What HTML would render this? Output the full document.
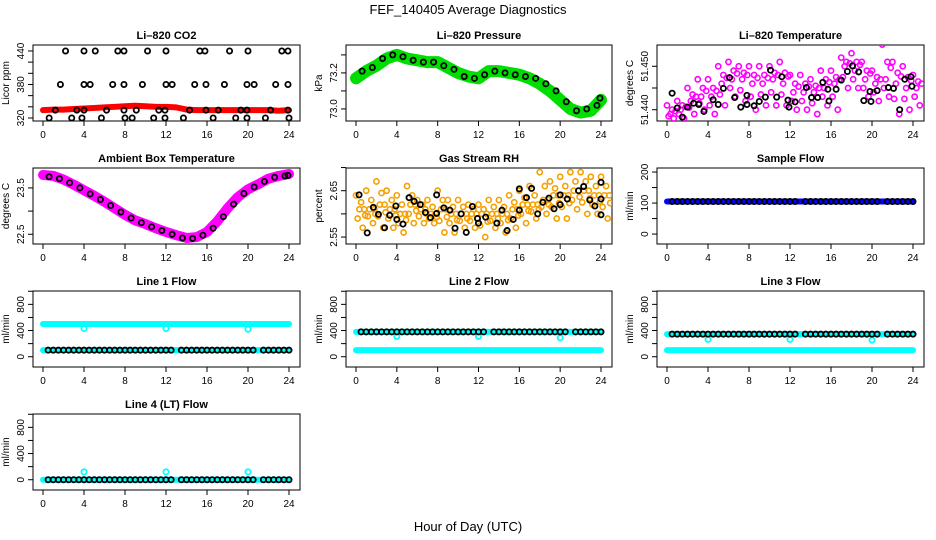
<!DOCTYPE html>
<html><head><meta charset="utf-8">
<style>
html,body{margin:0;padding:0;background:#fff;}
svg{display:block;font-family:"Liberation Sans",Arial,sans-serif;}
</style></head>
<body>
<svg id="chart" width="936" height="540" viewBox="0 0 936 540" xmlns="http://www.w3.org/2000/svg">
<rect x="0" y="0" width="936" height="540" fill="#fff"/>
<text x="468" y="14" font-size="13" text-anchor="middle">FEF_140405  Average Diagnostics</text>
<text x="468" y="531" font-size="13" text-anchor="middle">Hour of Day (UTC)</text>
</svg>
<script>
// ---------- data ----------
const hours = [0,1,2,3,4,5,6,7,8,9,10,11,12,13,14,15,16,17,18,19,20,21,22,23,24];
const co2Band = [334,335,335,336,337,338,339,340,341,342,341,340,340,339,335,334,334,334,334,334,334,334,334,333,334];
const co2H440 = [2.2,4.0,5.1,7.3,7.9,10.2,12.0,15.3,15.8,18.2,20.0,23.3,23.9];
const co2H380 = [1.7,4.0,4.6,6.8,7.9,9.7,12.0,12.6,14.8,15.9,17.7,19.9,20.6,22.7,23.9];
const co2H320 = [0.6,2.8,3.8,5.7,8.0,8.7,10.8,11.9,13.7,16.6,18.8,19.9,21.7,24.0];
const co2H334 = [1.2,3.3,4.0,6.2,7.9,9.1,11.3,11.9,14.3,15.9,17.1,19.3,19.9,22.2,23.9];
const presBand = [73.17,73.21,73.24,73.28,73.30,73.28,73.27,73.26,73.26,73.23,73.20,73.18,73.17,73.21,73.21,73.20,73.19,73.17,73.14,73.10,73.05,73.00,72.98,72.99,73.05];
const presBlackH = [0.6,1.6,2.6,3.6,4.6,5.6,6.6,7.6,8.6,9.6,10.6,11.6,12.6,13.6,14.6,15.6,16.6,17.6,18.6,19.6,20.6,21.6,22.6,23.6,23.9];
const presBlackV = [73.21,73.23,73.28,73.30,73.29,73.27,73.26,73.26,73.24,73.22,73.18,73.17,73.19,73.21,73.20,73.19,73.18,73.17,73.14,73.10,73.04,72.99,73.00,73.02,73.06];
const tempHi = [51.441,51.442,51.445,51.447,51.447,51.450,51.451,51.450,51.450,51.450,51.450,51.451,51.448,51.448,51.447,51.449,51.449,51.452,51.453,51.451,51.449,51.455,51.451,51.450,51.448];
const tempMid = [51.439,51.440,51.442,51.443,51.443,51.446,51.447,51.447,51.446,51.446,51.447,51.446,51.444,51.444,51.444,51.445,51.446,51.450,51.449,51.447,51.446,51.447,51.446,51.445,51.445];
const tempLo = [51.438,51.438,51.439,51.440,51.439,51.441,51.443,51.442,51.440,51.441,51.441,51.441,51.440,51.440,51.439,51.441,51.440,51.445,51.445,51.443,51.442,51.443,51.439,51.440,51.441];
const tempBlackH = [0.5,1.0,1.5,2.0,2.6,3.1,3.6,4.5,5.0,5.5,6.1,6.6,7.2,7.8,7.8,8.5,9.0,9.6,10.1,10.7,11.2,11.8,11.9,12.5,13.6,14.1,14.7,15.2,15.7,15.8,16.5,17.0,17.6,18.1,18.7,19.2,19.8,19.9,20.5,21.6,22.1,22.7,23.2,23.8,23.9];
const tempBlackV = [51.4438,51.4404,51.4383,51.4406,51.4415,51.4412,51.4396,51.4423,51.4412,51.4449,51.4474,51.4428,51.4406,51.4433,51.4412,51.4409,51.4419,51.4429,51.4491,51.4429,51.4476,51.4422,51.4406,51.4418,51.4451,51.4428,51.4428,51.4463,51.4447,51.4420,51.4447,51.4468,51.4488,51.4501,51.4487,51.4421,51.4442,51.4419,51.4444,51.4451,51.4449,51.4400,51.4470,51.4476,51.4454];
const ambBand = [23.78,23.76,23.68,23.57,23.45,23.33,23.20,23.06,22.92,22.80,22.72,22.63,22.55,22.48,22.42,22.44,22.55,22.78,23.06,23.30,23.47,23.58,23.70,23.76,23.80];
const ambBlackH = [0.6,1.6,2.6,3.6,4.6,5.6,6.6,7.6,8.6,9.6,10.6,11.6,12.6,13.6,14.6,15.6,16.6,17.6,18.6,19.6,20.6,21.6,22.6,23.6,23.9];
const ambBlackV = [23.74,23.70,23.61,23.50,23.37,23.25,23.12,22.98,22.85,22.75,22.66,22.58,22.50,22.42,22.41,22.48,22.63,22.88,23.15,23.38,23.52,23.64,23.73,23.76,23.77];
const rhHi = [2.64,2.65,2.67,2.65,2.64,2.66,2.63,2.63,2.65,2.63,2.63,2.62,2.62,2.63,2.63,2.64,2.65,2.66,2.69,2.67,2.68,2.69,2.69,2.68,2.68];
const rhMid = [2.61,2.61,2.62,2.61,2.60,2.62,2.61,2.60,2.61,2.60,2.60,2.60,2.60,2.60,2.60,2.61,2.62,2.62,2.63,2.64,2.64,2.65,2.65,2.64,2.64];
const rhLo = [2.57,2.58,2.57,2.57,2.56,2.58,2.58,2.58,2.56,2.56,2.57,2.57,2.55,2.57,2.56,2.57,2.58,2.59,2.60,2.59,2.59,2.61,2.60,2.60,2.59];
const rhBlackH = [0.3,1.1,1.7,2.2,2.8,3.3,3.9,4.0,4.6,5.2,5.7,6.3,6.8,7.3,7.9,7.9,8.6,9.2,9.7,10.3,10.8,11.4,11.9,12.0,12.7,13.8,14.3,14.8,15.4,16.0,16.0,16.7,17.2,17.8,18.3,18.9,19.4,20.0,20.0,20.7,21.8,22.3,22.9,23.4,24.0,24.0,24.0];
const rhBlackV = [2.641,2.559,2.614,2.599,2.570,2.597,2.617,2.588,2.578,2.635,2.627,2.620,2.603,2.592,2.641,2.601,2.613,2.608,2.569,2.600,2.560,2.616,2.590,2.580,2.593,2.580,2.608,2.564,2.588,2.608,2.654,2.635,2.655,2.600,2.625,2.634,2.611,2.641,2.620,2.632,2.650,2.659,2.630,2.617,2.632,2.668,2.598];
const flowBlackH = [0.5,1.0,1.5,2.0,2.5,3.0,3.5,4.0,4.5,5.0,5.5,6.0,6.5,7.0,7.5,8.0,8.5,9.0,9.5,10.0,10.5,11.0,11.5,12.0,12.5,13.5,14.0,14.5,15.0,15.5,16.0,16.5,17.0,17.5,18.0,18.5,19.0,19.5,20.0,20.5,21.5,22.0,22.5,23.0,23.5,24.0];
const sampleFlow = [105];
const line1Flow = [500,100];
const line2Flow = [380,100];
const line3Flow = [345,100];
const line4Flow = [0];
const outlierH = [4,12,20];
const line1Out = [430,430,420];
const line2Out = [310,310,290];
const line3Out = [265,265,255];
const line4Out = [120,120,120];

// ---------- layout ----------
const NS = "http://www.w3.org/2000/svg";
const svg = document.getElementById('chart');
const colL = [33,346,657], colR = [300,612,924];
const rowT = [45,168,291,414], PH = 76;
function el(tag, attrs, parent){
  const e = document.createElementNS(NS, tag);
  for (const k in attrs) e.setAttribute(k, attrs[k]);
  (parent||svg).appendChild(e);
  return e;
}
function panel(name, title, ylab, col, row, ymin, ymax, ticks, labels){
  const g = el('g', {});
  
  
  const L = colL[col], R = colR[col], T = rowT[row], B = T + PH;
  const x0 = L + 10, x1 = R - 11;
  const sx = h => x0 + (h / 24) * (x1 - x0);
  const sy = v => B - (v - ymin) / (ymax - ymin) * (B - T);
  const box = el('rect', {x:L, y:T, width:R-L, height:PH, fill:'none', stroke:'#000', 'stroke-width':1}, g);
  
  
  const t = el('text', {x:(L+R)/2, y:T-6, 'font-size':11, 'font-weight':'bold', 'text-anchor':'middle'}, g);
  t.textContent = title;
  
  
  const yl = el('text', {x:0, y:0, 'font-size':10, 'text-anchor':'middle', transform:`translate(${L-24},${(T+B)/2}) rotate(-90)`}, g);
  yl.textContent = ylab;
  
  
  for (let h = 0; h <= 24; h += 4){
    el('line', {x1:sx(h), x2:sx(h), y1:B, y2:B+5, stroke:'#000'}, g);
    const tl = el('text', {x:sx(h), y:B+17, 'font-size':10, 'text-anchor':'middle'}, g);
    tl.textContent = h;
    
    
  }
  ticks.forEach((v, i) => {
    el('line', {x1:L-5, x2:L, y1:sy(v), y2:sy(v), stroke:'#000'}, g);
    if (labels[i]){
      const yt = el('text', {x:0, y:0, 'font-size':10, 'text-anchor':'middle', transform:`translate(${L-9},${sy(v)}) rotate(-90)`}, g);
      yt.textContent = labels[i];
      
      
    }
  });
  const clip = 'clip-' + name;
  const cp = el('clipPath', {id:clip}, g);
  el('rect', {x:L, y:T, width:R-L, height:PH}, cp);
  const marks = el('g', {'clip-path':`url(#${clip})`}, g);
  return {sx, sy, g:marks};
}
function band(p, xs, ys, color, w, name){
  const pts = xs.map((h,i) => p.sx(h) + ',' + p.sy(ys[i])).join(' ');
  const pl = el('polyline', {points:pts, fill:'none', stroke:color, 'stroke-width':w, 'stroke-linejoin':'round', 'stroke-linecap':'round'}, p.g);
  
  
}
function pts(p, xs, ys, color, r, sw, name){
  xs.forEach((h, i) => {
    const c = el('circle', {cx:p.sx(h), cy:p.sy(ys[i]), r:r, fill:'none', stroke:color, 'stroke-width':sw}, p.g);
    
    
  });
}
const fill = (arr, v) => arr.map(() => v);
const BR = 2.6, BW = 1.8;

// CO2
let p = panel('co2', 'Li\u2013820 CO2', 'Licor ppm', 0, 0, 314.6, 450.7, [320,340,360,380,400,420,440], ['320','','','380','','','440']);
band(p, hours, co2Band, '#ff0000', 6, 'co2-band');
pts(p, co2H440, fill(co2H440, 440), '#000', BR, BW, 'co2-black-point');
pts(p, co2H380, fill(co2H380, 380), '#000', BR, BW, 'co2-black-point');
pts(p, co2H320, fill(co2H320, 320), '#000', BR, BW, 'co2-black-point');
pts(p, co2H334, fill(co2H334, 334), '#000', BR, BW, 'co2-black-point');

// Pressure
p = panel('pressure', 'Li\u2013820 Pressure', 'kPa', 1, 0, 72.933, 73.355, [73.0,73.1,73.2,73.3], ['73.0','','73.2','']);
band(p, hours, presBand, '#00dd00', 12, 'pressure-band');
pts(p, presBlackH, presBlackV, '#000', BR, BW, 'pressure-black-point');

// Temperature
p = panel('temperature', 'Li\u2013820 Temperature', 'degrees C', 2, 0, 51.4374, 51.4549, [51.440,51.445,51.450], ['51.440','','51.450']);
[0,0.33,0.66].forEach((o,k) => pts(p, hours.map(h=>h+o), [tempHi,tempMid,tempLo][k], '#ff00ff', 2.6, 1.6, 'temperature-point'));
pts(p, hours.map(h=>h+0.5), tempMid.map((v,i)=>(v+tempHi[i])/2), '#ff00ff', 2.6, 1.6, 'temperature-point');
pts(p, hours.map(h=>h+0.16), tempMid.map((v,i)=>(v+tempLo[i])/2), '#ff00ff', 2.6, 1.6, 'temperature-point');
pts(p, hours.map(h=>h+0.83), tempMid.map((v,i)=>(2*v+tempHi[i])/3), '#ff00ff', 2.6, 1.6, 'temperature-point');
pts(p, tempBlackH, tempBlackV, '#000', BR, BW, 'temperature-black-point');

// Ambient box temp
p = panel('ambient-temp', 'Ambient Box Temperature', 'degrees C', 0, 1, 22.29, 23.93, [22.5,23.0,23.5], ['22.5','','23.5']);
band(p, hours, ambBand, '#ff00ff', 10, 'ambient-band');
pts(p, ambBlackH, ambBlackV, '#000', BR, BW, 'ambient-black-point');

// RH
p = panel('rh', 'Gas Stream RH', 'percent', 1, 1, 2.535, 2.699, [2.55,2.60,2.65,2.70], ['2.55','','2.65','']);
[0,0.33,0.66].forEach((o,k) => pts(p, hours.map(h=>h+o), [rhHi,rhMid,rhLo][k], '#f5a000', 2.6, 1.6, 'rh-point'));
pts(p, hours.map(h=>h+0.5), rhMid.map((v,i)=>(v+rhHi[i])/2), '#f5a000', 2.6, 1.6, 'rh-point');
pts(p, hours.map(h=>h+0.16), rhMid.map((v,i)=>(v+rhLo[i])/2), '#f5a000', 2.6, 1.6, 'rh-point');
pts(p, hours.map(h=>h+0.8), rhMid, '#f5a000', 2.6, 1.6, 'rh-point');
pts(p, hours.map(h=>h+0.9), rhMid.map((v,i)=>(2*v+rhLo[i])/3), '#f5a000', 2.6, 1.6, 'rh-point');
pts(p, rhBlackH, rhBlackV, '#000', BR, BW, 'rh-black-point');

// Sample flow
p = panel('sample-flow', 'Sample Flow', 'ml/min', 2, 1, -32, 213, [0,50,100,150,200], ['0','','100','','200']);
band(p, [0,24], fill([0,24], sampleFlow[0]), '#0000ff', 6, 'sample-flow-band');
pts(p, flowBlackH, fill(flowBlackH, sampleFlow[0]), '#000', BR, BW, 'sample-flow-black-point');

// Line flows
const fT = [0,200,400,600,800,1000], fL = ['0','','400','','800',''];
function flowPanel(name, title, col, row, hi, lo, outV, blackOnHi){
  const q = panel(name, title, 'ml/min', col, row, -157, 1004, fT, fL);
  if (hi !== null) band(q, [0,24], fill([0,24], hi), '#00ffff', 6, name + '-high-band');
  band(q, [0,24], fill([0,24], lo), '#00ffff', 6, name + '-low-band');
  pts(q, outlierH, outV, '#00ffff', 2.6, 1.8, name + '-outlier');
  pts(q, flowBlackH, fill(flowBlackH, blackOnHi ? hi : lo), '#000', BR, BW, name + '-black-point');
}
flowPanel('line1-flow', 'Line 1 Flow', 0, 2, line1Flow[0], line1Flow[1], line1Out, false);
flowPanel('line2-flow', 'Line 2 Flow', 1, 2, line2Flow[0], line2Flow[1], line2Out, true);
flowPanel('line3-flow', 'Line 3 Flow', 2, 2, line3Flow[0], line3Flow[1], line3Out, true);
flowPanel('line4-flow', 'Line 4 (LT) Flow', 0, 3, null, line4Flow[0], line4Out, false);
</script>
</body></html>
